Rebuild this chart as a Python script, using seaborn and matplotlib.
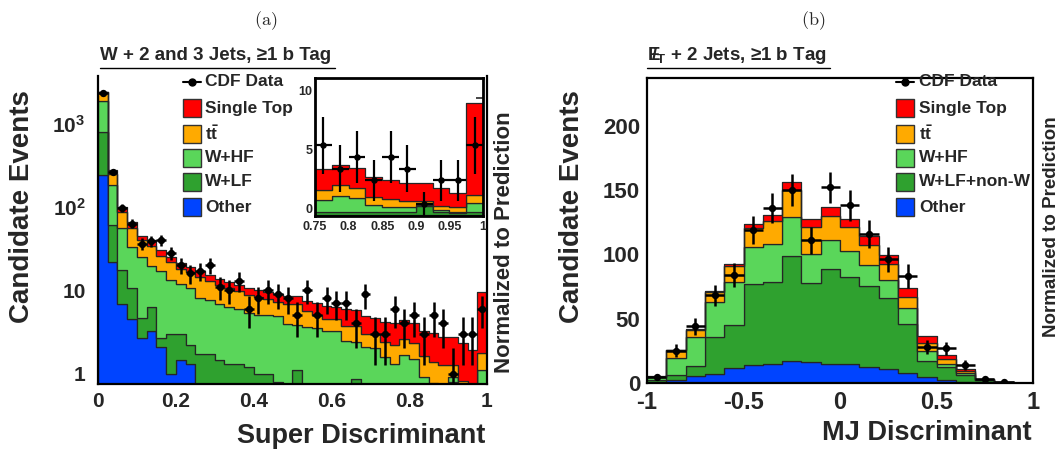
import numpy as np
import pandas as pd
import matplotlib
matplotlib.use("Agg")
import matplotlib.pyplot as plt
import seaborn as sns
from matplotlib.patches import Rectangle
from matplotlib.lines import Line2D
from matplotlib.ticker import FixedLocator, FixedFormatter, MultipleLocator, LogLocator, NullFormatter

# ---------------- (a) Super Discriminant: 40 bins on [0, 1] ----------------
sd_range = (0.0, 1.0)
sd_nbins = 40
sd_other = [238, 22, 6.8, 4.5, 2.7, 3.2, 2.1, 1.0, 1.47, 1.3,
            0.3, 0.3, 0.25, 0.2, 0.2, 0.15, 0.15, 0.12, 0.12, 0.1,
            0.1, 0.1, 0.1, 0.1, 0.1, 0.08, 0.08, 0.08, 0.08, 0.08,
            0.1, 0.1, 0.08, 0.06, 0.06, 0.05, 0.05, 0.05, 0.05, 0.05]
sd_wlf = [542, 38.6, 10.8, 6.0, 1.9, 3.0, 0.6, 2.0, 1.53, 0.9,
          1.4, 1.4, 1.22, 1.1, 1.1, 1.04, 0.85, 0.88, 0.68, 0.6,
          1.0, 0.5, 0.4, 0.4, 0.4, 0.42, 0.77, 0.32, 0.27, 0.22,
          0.2, 0.2, 0.22, 0.24, 0.24, 0.25, 0.75, 0.25, 0.15, 0.25]
sd_whf = [1080, 120.4, 37.4, 22.5, 20.4, 13.1, 14.1, 10.4, 8.9, 8.3,
          6.4, 5.9, 5.33, 4.9, 4.6, 4.21, 4.1, 4.0, 4.1, 3.2,
          2.7, 3.0, 3.0, 2.75, 2.7, 1.97, 1.55, 1.66, 1.65, 1.3,
          1.0, 1.38, 1.18, 0.61, 0.47, 0.41, 0.1, 0.18, 0.14, 0.8]
sd_ttbar = [500, 68, 32, 22, 15, 14.7, 9.2, 8.1, 6.1, 5.8,
            6.4, 5.2, 4.7, 4.3, 3.8, 3.4, 3.2, 2.8, 2.4, 2.9,
            3.0, 2.0, 1.6, 1.25, 1.3, 1.23, 1.3, 0.94, 1.0, 0.76,
            0.89, 0.92, 0.85, 0.71, 0.62, 0.54, 0.35, 0.34, 0.37, 0.66]
sd_stop = [20, 24, 13, 10, 5, 6, 4, 3.5, 3, 2.7,
           2.5, 2.2, 2.0, 2.0, 1.8, 1.7, 1.7, 1.7, 1.7, 1.7,
           1.7, 1.8, 2.0, 1.9, 1.7, 2.2, 2.1, 1.9, 1.7, 1.74,
           1.81, 1.75, 1.7, 1.65, 1.65, 1.51, 1.51, 1.51, 1.19, 7.87]
sd_data = [2290, 264, 97, 63, 36, 39, 40, 28, 20, 16,
           17, 20, 11, 10, 13, 6, 8, 10, 9, 8,
           5, 10, 5, 8, 7, 7, 4, 9, 3, 3,
           6, 4, 5, 3, 5, 4, 1, 3, 3, 6]
sd_xticks = [0, 0.2, 0.4, 0.6, 0.8, 1]
sd_xticklabels = ["0", "0.2", "0.4", "0.6", "0.8", "1"]
sd_yticks = [1, 10, 100, 1000]
sd_yticklabels = ["1", "10", r"$\mathbf{10^{2}}$", r"$\mathbf{10^{3}}$"]
inset_first_bin = 30
inset_xticks = [0.75, 0.8, 0.85, 0.9, 0.95, 1]
inset_xticklabels = ["0.75", "0.8", "0.85", "0.9", "0.95", "1"]
inset_yticks = [0, 5, 10]

# ---------------- (b) MJ Discriminant: 20 bins on [-1, 1] ----------------
mj_range = (-1.0, 1.0)
mj_nbins = 20
mj_other = [1, 2.3, 5.4, 6.9, 11.7, 14, 15, 17.4, 16.6, 14.5,
            15.0, 12.5, 11.2, 7.9, 4.9, 2.3, 0.8, 0.3, 0.05, 0]
mj_wlf = [1.5, 3.8, 7.9, 28.6, 33.5, 62.8, 63.6, 81.4, 61.1, 74.3,
          67.2, 62.5, 54.9, 37.8, 11.9, 10.2, 5.3, 2.0, 0.25, 0]
mj_whf = [2.0, 13.6, 22.7, 27.3, 33.1, 28.9, 29.1, 30.4, 22.5, 22,
          20.1, 16.7, 14.0, 12.2, 8.4, 2.5, 1.3, 0.4, 0.1, 0]
mj_ttbar = [0.5, 5.6, 5.3, 7.9, 12.6, 15, 18.1, 20.4, 21.2, 19.1,
            18.7, 15.3, 12.3, 9.0, 5.9, 3.8, 2.0, 0.3, 0.1, 0]
mj_stop = [0.4, 0.5, 1.0, 1.0, 1.5, 3.1, 4.6, 6.4, 6.1, 6.9,
           6.4, 7.1, 6.9, 6.8, 5.6, 3.3, 1.6, 0.2, 0.1, 0]
mj_data = [5, 25, 44, 68, 84, 119, 136, 150, 111, 152,
           138, 116, 96, 83, 28, 27, 14, 3, 1, 0]
mj_xticks = [-1, -0.5, 0, 0.5, 1]
mj_xticklabels = ["-1", "-0.5", "0", "0.5", "1"]
mj_yticks = [0, 50, 100, 150, 200]

colors = {"Single Top": "#ff0000", "ttbar": "#ffaa00", "W+HF": "#5ad65a",
          "W+LF": "#2fa12f", "Other": "#0044ff"}
stack_order = ["Single Top", "ttbar", "W+HF", "W+LF", "Other"]   # top -> bottom

# ---------------- style ----------------
sns.set_theme(style="white")
plt.rcParams["font.family"] = ["Liberation Sans", "DejaVu Sans"]
plt.rcParams["font.weight"] = "bold"
plt.rcParams["axes.labelweight"] = "bold"
plt.rcParams["mathtext.fontset"] = "custom"
plt.rcParams["mathtext.rm"] = "Liberation Sans:bold"
plt.rcParams["mathtext.bf"] = "Liberation Sans:bold"
plt.rcParams["mathtext.it"] = "Liberation Sans:bold:italic"

W, H = 1060, 449
fig = plt.figure(figsize=(W / 100, H / 100), dpi=100)


def fbox(x0, y0, x1, y1):
    return [x0 / W, 1 - y1 / H, (x1 - x0) / W, (y1 - y0) / H]


def fx(x):
    return x / W


def fy(y):
    return 1 - y / H


def frame(edges, comps):
    centers = 0.5 * (edges[:-1] + edges[1:])
    parts = [pd.DataFrame({"x": centers, "w": np.asarray(vals, float), "comp": name})
             for name, vals in comps.items()]
    return pd.concat(parts, ignore_index=True)


def draw_stack(ax, edges, comps):
    df = frame(edges, comps)
    sns.histplot(data=df, x="x", weights="w", hue="comp", hue_order=stack_order,
                 palette=colors, bins=len(edges) - 1,
                 binrange=(float(edges[0]), float(edges[-1])),
                 multiple="stack", element="step",
                 fill=True, alpha=1, edgecolor="#262626", linewidth=0.9,
                 legend=False, ax=ax)


def draw_data(ax, edges, data, ms=28, elw=1.8):
    centers = 0.5 * (edges[:-1] + edges[1:])
    half = 0.5 * (edges[1:] - edges[:-1])
    d = np.asarray(data, dtype=float)
    m = d > 0
    ax.errorbar(centers[m], d[m], xerr=half[m], yerr=np.sqrt(d[m]), fmt="none",
                ecolor="black", elinewidth=elw, capsize=0, zorder=5)
    sns.scatterplot(x=centers[m], y=d[m], color="black", s=ms, edgecolor="black",
                    linewidth=0, zorder=6, ax=ax, legend=False)


def legend(x_patch0, x_patch1, x_text, rows, labels, fs):
    y0 = rows[0]
    fig.add_artist(Line2D([fx(x_patch0), fx(x_patch1)], [fy(y0), fy(y0)], color="black",
                          lw=1.5, transform=fig.transFigure))
    fig.add_artist(Line2D([fx(0.5 * (x_patch0 + x_patch1))], [fy(y0)], marker="o", ms=5,
                          color="black", transform=fig.transFigure))
    fig.text(fx(x_text), fy(y0), "CDF Data", fontsize=fs, va="center", ha="left")
    for y, name, lab in zip(rows[1:], stack_order, labels):
        fig.add_artist(Rectangle((fx(x_patch0), fy(y + 9)), fx(x_patch1) - fx(x_patch0),
                                 18 / H, facecolor=colors[name], edgecolor="#333333",
                                 lw=1.0, transform=fig.transFigure))
        fig.text(fx(x_text), fy(y), lab, fontsize=fs, va="center", ha="left")


def style_ticks(ax, lsize, length=7, minor_len=3.5):
    ax.tick_params(which="both", direction="in", top=False, right=False,
                   labelsize=lsize, width=1.2)
    ax.tick_params(which="major", length=length)
    ax.tick_params(which="minor", length=minor_len)
    for s in ax.spines.values():
        s.set_linewidth(1.6)
        s.set_color("black")
    ax.set_xlabel("")
    ax.set_ylabel("")


# ================= panel (a) =================
ax1 = fig.add_axes(fbox(98, 76, 487, 384))
sd_edges = np.linspace(sd_range[0], sd_range[1], sd_nbins + 1)
ax1.set_yscale("log")
sd_comps = {"Single Top": sd_stop, "ttbar": sd_ttbar, "W+HF": sd_whf,
            "W+LF": sd_wlf, "Other": sd_other}
draw_stack(ax1, sd_edges, sd_comps)
draw_data(ax1, sd_edges, sd_data)
ax1.set_yscale("log")
ax1.set_xlim(*sd_range)
ax1.set_ylim(0.75, 3700)
ax1.xaxis.set_major_locator(FixedLocator(sd_xticks))
ax1.xaxis.set_major_formatter(FixedFormatter(sd_xticklabels))
ax1.xaxis.set_minor_locator(MultipleLocator(0.05))
ax1.yaxis.set_major_locator(FixedLocator(sd_yticks))
ax1.yaxis.set_major_formatter(FixedFormatter(sd_yticklabels))
ax1.yaxis.set_minor_locator(LogLocator(base=10, subs=np.arange(2, 10)))
ax1.yaxis.set_minor_formatter(NullFormatter())
style_ticks(ax1, 15)
ax1.tick_params(axis="y", labelsize=15, pad=9)
ax1.tick_params(axis="x", pad=6)
ax1.spines["top"].set_visible(False)

# inset
axi = fig.add_axes(fbox(315, 78, 483, 215.7))
axi.set_facecolor("white")
in_edges = sd_edges[inset_first_bin:]
in_comps = {k: v[inset_first_bin:] for k, v in sd_comps.items()}
draw_stack(axi, in_edges, in_comps)
draw_data(axi, in_edges, sd_data[inset_first_bin:], ms=22, elw=1.6)
axi.set_xlim(in_edges[0], in_edges[-1])
axi.set_ylim(0, 11.73)
axi.xaxis.set_major_locator(FixedLocator(inset_xticks))
axi.xaxis.set_major_formatter(FixedFormatter(inset_xticklabels))
axi.yaxis.set_major_locator(FixedLocator(inset_yticks))
axi.yaxis.set_minor_locator(MultipleLocator(1))
style_ticks(axi, 9, length=5, minor_len=2.5)
axi.tick_params(axis="y", right=True, pad=2)
axi.tick_params(axis="x", pad=4)
for s in axi.spines.values():
    s.set_linewidth(2.0)
for lab in axi.get_yticklabels():
    lab.set_verticalalignment("bottom")

# ================= panel (b) =================
ax2 = fig.add_axes(fbox(647, 78, 1033, 383))
mj_edges = np.linspace(mj_range[0], mj_range[1], mj_nbins + 1)
mj_comps = {"Single Top": mj_stop, "ttbar": mj_ttbar, "W+HF": mj_whf,
            "W+LF": mj_wlf, "Other": mj_other}
draw_stack(ax2, mj_edges, mj_comps)
draw_data(ax2, mj_edges, mj_data)
ax2.set_xlim(*mj_range)
ax2.set_ylim(0, 237)
ax2.xaxis.set_major_locator(FixedLocator(mj_xticks))
ax2.xaxis.set_major_formatter(FixedFormatter(mj_xticklabels))
ax2.xaxis.set_minor_locator(MultipleLocator(0.1))
ax2.yaxis.set_major_locator(FixedLocator(mj_yticks))
ax2.yaxis.set_minor_locator(MultipleLocator(10))
style_ticks(ax2, 17)
ax2.tick_params(axis="y", labelsize=16, pad=5)
ax2.tick_params(axis="x", pad=6)

# ================= text =================
fig.text(fx(266), fy(21), r"$\mathrm{(a)}$", math_fontfamily="cm", fontsize=13,
         ha="center", va="center")
fig.text(fx(813), fy(21), r"$\mathrm{(b)}$", math_fontfamily="cm", fontsize=13,
         ha="center", va="center")

fig.text(fx(100), fy(55), "W + 2 and 3 Jets, ≥1 b Tag", fontsize=13.5, ha="left", va="center")
fig.add_artist(Line2D([fx(100), fx(335)], [fy(68), fy(68)], color="black", lw=1.0,
                      transform=fig.transFigure))
fig.text(fx(647), fy(55), r"E$\!\!\!/$$_\mathbf{T}$ + 2 Jets, ≥1 b Tag", fontsize=13.5,
         ha="left", va="center")
fig.add_artist(Line2D([fx(647), fx(830)], [fy(68), fy(68)], color="black", lw=1.0,
                      transform=fig.transFigure))

fig.text(fx(22), fy(207), "Candidate Events", rotation=90, fontsize=20,
         ha="center", va="center")
fig.text(fx(572), fy(207), "Candidate Events", rotation=90, fontsize=20,
         ha="center", va="center")
fig.text(fx(505), fy(242), "Normalized to Prediction", rotation=90, fontsize=16,
         ha="center", va="center")
fig.text(fx(1051), fy(227), "Normalized to Prediction", rotation=90, fontsize=13.5,
         ha="center", va="center")
fig.text(fx(485), fy(436), "Super Discriminant", fontsize=19.5, ha="right", va="center")
fig.text(fx(1032), fy(433), "MJ Discriminant", fontsize=19.5, ha="right", va="center")

rows = [82, 108, 134, 158, 182, 207]
legend(183, 201, 205, rows,
       ["Single Top", r"$\mathbf{t\bar{t}}$", "W+HF", "W+LF", "Other"], 12.5)
legend(896, 914, 919, rows,
       ["Single Top", r"$\mathbf{t\bar{t}}$", "W+HF", "W+LF+non-W", "Other"], 12.5)

fig.savefig("out.png", dpi=100)
